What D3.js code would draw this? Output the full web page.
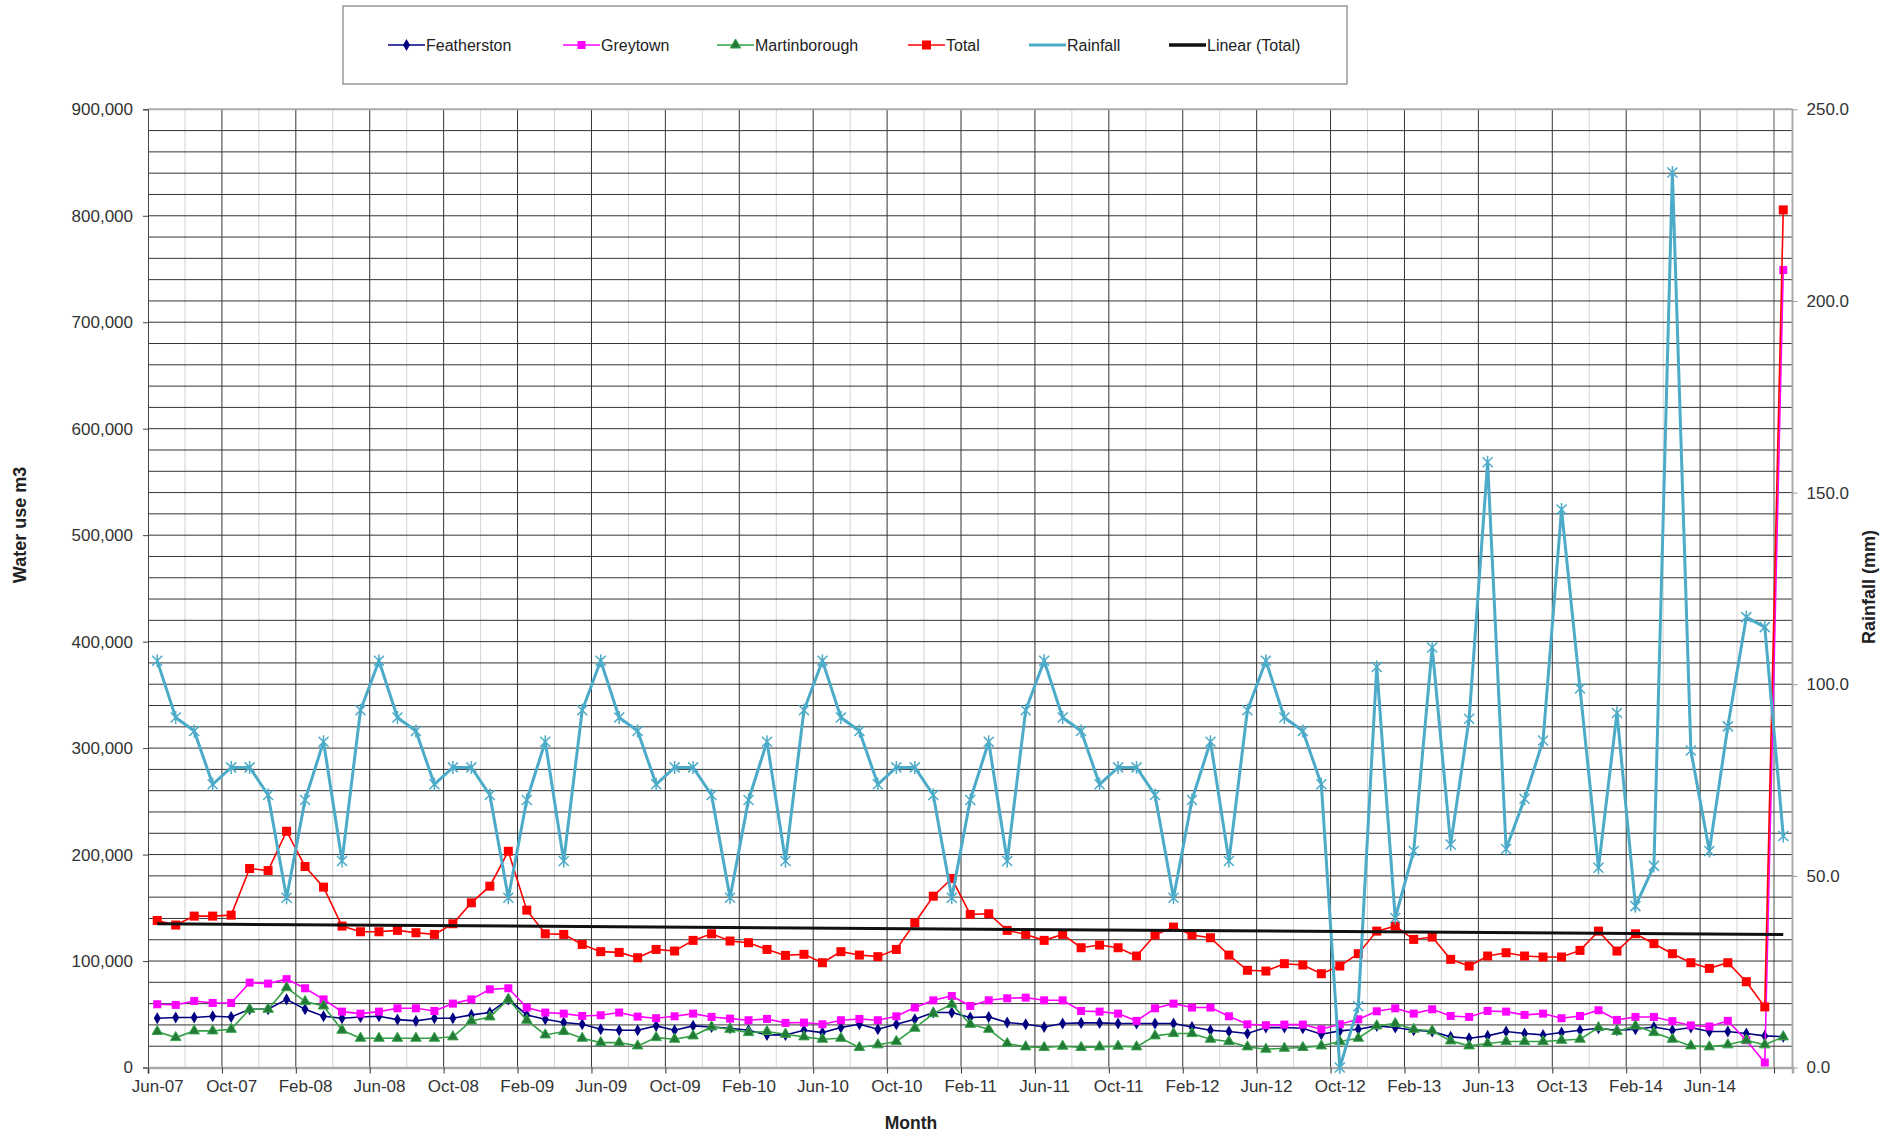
<!DOCTYPE html>
<html>
<head>
<meta charset="utf-8">
<script src="https://cdn.jsdelivr.net/npm/d3@7/dist/d3.min.js"></script>
<style>
  html, body { margin: 0; padding: 0; background: #fff; }
  svg { display: block; font-family: "Liberation Sans", Arial, sans-serif; }
</style>
</head>
<body>
<svg id="chart" width="1899" height="1137"></svg>
<script>
// Monthly categories, Jun-07 .. Oct-14
const months = [
  "Jun-07","Jul-07","Aug-07","Sep-07","Oct-07","Nov-07","Dec-07",
  "Jan-08","Feb-08","Mar-08","Apr-08","May-08","Jun-08","Jul-08","Aug-08","Sep-08","Oct-08","Nov-08","Dec-08",
  "Jan-09","Feb-09","Mar-09","Apr-09","May-09","Jun-09","Jul-09","Aug-09","Sep-09","Oct-09","Nov-09","Dec-09",
  "Jan-10","Feb-10","Mar-10","Apr-10","May-10","Jun-10","Jul-10","Aug-10","Sep-10","Oct-10","Nov-10","Dec-10",
  "Jan-11","Feb-11","Mar-11","Apr-11","May-11","Jun-11","Jul-11","Aug-11","Sep-11","Oct-11","Nov-11","Dec-11",
  "Jan-12","Feb-12","Mar-12","Apr-12","May-12","Jun-12","Jul-12","Aug-12","Sep-12","Oct-12","Nov-12","Dec-12",
  "Jan-13","Feb-13","Mar-13","Apr-13","May-13","Jun-13","Jul-13","Aug-13","Sep-13","Oct-13","Nov-13","Dec-13",
  "Jan-14","Feb-14","Mar-14","Apr-14","May-14","Jun-14","Jul-14","Aug-14","Sep-14","Oct-14"
];

// Water use, m3 (thousands)
const featherston = [
  46.3,46.9,46.9,48.1,47.5,54.7,54.7,64,54.7,48.1,46.3,47.5,48.1,45,43.8,46.3,46.3,49.4,51.6,64,49.4,45.3,42.2,
  40.6,35.9,35,35,39.1,35,39.1,38.1,36.9,35,30.6,30.6,35,32.8,37.5,40.6,35.9,40.6,45.3,51.6,51.6,46.9,
  47.5,42.2,40.6,38.1,41.3,41.9,41.9,41.3,41.3,41.3,41.3,38.1,35,33.8,31.9,37.5,37.5,36.9,31.3,34.4,35.9,39.1,
  37.5,35,33.8,28.8,27.5,29.7,33.8,31.9,30.6,32.8,35,36.9,35,35.9,38.1,35,37.5,33.8,33.8,31.9,29.7,29
];
const greytown = [
  59.4,58.8,62.5,60.6,60.6,79.7,78.8,83,74.4,64,52.5,50.6,52.5,55.6,55.6,53.1,60,64,73.4,74.4,56.3,51.6,50.6,
  48.4,49.1,51.6,47.8,46.3,48.1,50.6,47.5,45.9,44.4,45.6,41.9,42.2,40.6,44.4,45.6,44.4,48.1,56.3,63.1,67.2,57.8,
  63.1,65,65.6,63.1,63.1,53.1,52.5,50.6,43.8,55.6,60,56.3,56.3,48.1,40.6,39.7,40.3,40.3,35.9,40.6,45.3,52.8,
  55.6,50.6,54.7,48.4,47.5,53.1,52.5,49.4,50.6,46.3,48.4,53.8,44.7,47.5,47.5,43.5,39.5,38.5,43.8,25.6,4.7,749
];
const martinborough = [
  33.8,28.1,34.4,34.4,35.9,54.7,54.7,75,61.9,57.8,35,27.5,27.5,27.5,27.5,27.5,28.8,43.8,47.5,64,44.4,30.6,33.8,
  27.5,23.4,23.4,20.3,28.1,26.6,29.7,38.1,35.9,32.8,33.8,31.3,28.8,26.6,27.5,18.8,21.3,24.4,36.9,50.6,59.4,40.6,
  35.9,22.5,19.4,18.8,20,18.8,19.4,20,19.4,29.7,31.9,31.9,26.6,24.4,19.4,17.2,18.1,18.8,20.3,24.4,27.5,39.1,
  41.3,35.9,34.4,25,20.3,22.5,24.4,24.4,24.4,25.6,26.6,37.5,33.8,39.1,32.8,26.6,20.3,19.4,21.3,25.6,21.3,28.8
];
const total = [
  138.1,133.8,142.2,142.2,143.1,186.9,185,221.9,188.8,169.4,132.8,127.5,127.5,128.8,126.6,125,135,154.7,170.3,203.1,147.8,125.6,125,
  115.6,108.8,108.1,103.1,110.9,109.4,119.4,125.6,118.8,117.2,110.9,105.3,106.3,98.4,108.8,105.6,104.1,110.9,135.9,160.9,177.5,143.8,
  144.4,128.8,125,119.4,125,112.5,115,112.5,104.7,124.4,131.9,124.4,121.9,105.6,91.3,90.6,97.5,96.3,88.1,95.3,106.9,128.1,
  132.8,120.3,122.5,101.6,95.3,104.7,107.8,104.7,103.8,103.8,110,128.1,109.4,125.6,116.3,106.9,98.4,93.1,98.4,80.6,56.9,805.5
];
// Linear (Total) trendline end values, thousands m3
const linearTotal = [135, 125];

// Monthly rainfall, mm
const rainfall = [
  106.1,91.3,87.8,73.9,78.3,78.3,71.1,44.3,69.8,85,53.9,93.2,
  106.1,91.3,87.8,73.9,78.3,78.3,71.1,44.3,69.8,85,53.9,93.2,
  106.1,91.3,87.8,73.9,78.3,78.3,71.1,44.3,69.8,85,53.9,93.2,
  106.1,91.3,87.8,73.9,78.3,78.3,71.1,44.3,69.8,85,53.9,93.2,
  106.1,91.3,87.8,73.9,78.3,78.3,71.1,44.3,69.8,85,53.9,93.2,
  106.1,91.3,87.8,73.9,0,16,104.5,39,56.5,109.6,58.2,91,
  157.9,57,70.1,85.3,145.6,98.9,52.1,92.5,42.1,52.6,233.5,82.7,
  56.5,89,117.5,114.9,60.4
];

// Axis tick values
const leftTicks = [0,100000,200000,300000,400000,500000,600000,700000,800000,900000];
const rightTicks = [0,50,100,150,200,250];

const svg = d3.select("#chart");
const P = { left: 148, right: 1792.5, top: 109.3, bottom: 1067.5 };

const xi = d3.scaleLinear().domain([0, months.length]).range([P.left, P.right]);
const yL = d3.scaleLinear().domain([0, 900000]).range([P.bottom, P.top]);
const yR = d3.scaleLinear().domain([0, 250]).range([P.bottom, P.top]);
const bw = xi(1) - xi(0);
const cx = i => xi(i + 0.5);

// ---- gridlines ----
const grid = svg.append("g");
// vertical: every 2 months, darker every 4
d3.range(2, months.length + 1, 2).forEach(i => {
  const major = i % 4 === 0 && i < months.length - 1;
  grid.append("line")
    .attr("x1", xi(i)).attr("x2", xi(i))
    .attr("y1", P.top).attr("y2", P.bottom)
    .attr("stroke", major ? "#333" : (i === 88 ? "#aaa" : "#d4d4d4"))
    .attr("stroke-width", i === 88 ? 2 : 1);
});
// horizontal: every 20,000
d3.range(20000, 900001, 20000).forEach(v => {
  grid.append("line")
    .attr("x1", P.left).attr("x2", P.right)
    .attr("y1", yL(v)).attr("y2", yL(v))
    .attr("stroke", v === 900000 ? "#aaa" : "#333")
    .attr("stroke-width", v === 900000 ? 2 : 1);
});
// right border
grid.append("line").attr("x1", P.right).attr("x2", P.right)
  .attr("y1", P.top).attr("y2", P.bottom).attr("stroke", "#aaa").attr("stroke-width", 2);

// ---- axes ----
const tickFont = g => g.selectAll("text")
  .attr("font-size", "17px").attr("fill", "#333")
  .attr("font-family", "'Liberation Sans', Arial, sans-serif");

const axL = svg.append("g").attr("transform", `translate(${P.left},0)`)
  .call(d3.axisLeft(yL).tickValues(leftTicks).tickFormat(d3.format(",")).tickSize(5).tickPadding(10));
axL.select(".domain").attr("stroke", "#444");
axL.selectAll(".tick line").attr("stroke", "#444");
tickFont(axL);

const axR = svg.append("g").attr("transform", `translate(${P.right},0)`)
  .call(d3.axisRight(yR).tickValues(rightTicks).tickFormat(d3.format(".1f")).tickSize(5).tickPadding(9));
axR.select(".domain").remove();
axR.selectAll(".tick line").attr("stroke", "#999");
tickFont(axR);

// month ticks sit on category edges, labels on the month centre
const xTickIdx = d3.range(0, months.length, 4);
const axB = svg.append("g").attr("transform", `translate(0,${P.bottom})`)
  .call(d3.axisBottom(xi).tickValues(xTickIdx)
    .tickFormat(i => i < months.length - 1 ? months[i] : "")
    .tickSize(6).tickPadding(6));
axB.select(".domain").attr("stroke", "#aaa").attr("stroke-width", 2.5);
axB.selectAll(".tick line").attr("stroke", "#333");
axB.selectAll(".tick text").attr("x", bw / 2);
tickFont(axB);

// axis titles
svg.append("text").attr("transform", "translate(26,525) rotate(-90)")
  .attr("text-anchor", "middle").attr("font-size", "18px").attr("font-weight", "bold")
  .attr("fill", "#222").text("Water use m3");
svg.append("text").attr("transform", "translate(1875,587) rotate(-90)")
  .attr("text-anchor", "middle").attr("font-size", "18px").attr("font-weight", "bold")
  .attr("fill", "#222").text("Rainfall (mm)");
svg.append("text").attr("x", 911).attr("y", 1129)
  .attr("text-anchor", "middle").attr("font-size", "17.5px").attr("font-weight", "bold")
  .attr("fill", "#222").text("Month");

// ---- series ----
const series = [
  { name: "Featherston", data: featherston, color: "#000080", marker: "diamond", fill: "#000080" },
  { name: "Greytown", data: greytown, color: "#ff00ff", marker: "square", fill: "#ff00ff", size: 8 },
  { name: "Martinborough", data: martinborough, color: "#33a044", marker: "triangle", fill: "#237a36" },
  { name: "Total", data: total, color: "#ff0000", marker: "square", fill: "#ff0000", size: 9 }
];

function drawMarker(g, type, x, y, s) {
  if (type === "square") {
    const size = s.size || 8;
    g.append("rect").attr("x", x - size / 2).attr("y", y - size / 2)
      .attr("width", size).attr("height", size).attr("fill", s.fill);
  } else if (type === "diamond") {
    g.append("path").attr("transform", `translate(${x},${y})`)
      .attr("d", d3.symbol(d3.symbolDiamond, 42)()).attr("fill", s.fill);
  } else if (type === "triangle") {
    g.append("path").attr("transform", `translate(${x},${y})`)
      .attr("d", d3.symbol(d3.symbolTriangle, 48)()).attr("fill", s.fill)
      .attr("stroke", "#3aa64e").attr("stroke-width", 1);
  } else if (type === "star") {
    g.append("path").attr("transform", `translate(${x},${y})`)
      .attr("d", "M-5,-5L5,5M-5,5L5,-5M0,-6.5L0,6.5")
      .attr("stroke", s.color).attr("stroke-width", 1.5).attr("fill", "none");
  }
}

const plot = svg.append("g");
series.forEach(s => {
  const g = plot.append("g");
  g.append("path").datum(s.data)
    .attr("fill", "none").attr("stroke", s.color).attr("stroke-width", 1.6)
    .attr("d", d3.line().x((d, i) => cx(i)).y(d => yL(d * 1000)));
  s.data.forEach((d, i) => drawMarker(g, s.marker, cx(i), yL(d * 1000), s));
});

// rainfall on the secondary axis
const rainS = { color: "#4babc8" };
const gR = plot.append("g");
gR.append("path").datum(rainfall)
  .attr("fill", "none").attr("stroke", rainS.color).attr("stroke-width", 3)
  .attr("d", d3.line().x((d, i) => cx(i)).y(d => yR(d)));
rainfall.forEach((d, i) => drawMarker(gR, "star", cx(i), yR(d), rainS));

// linear trendline of Total
plot.append("line")
  .attr("x1", cx(0)).attr("x2", cx(months.length - 1))
  .attr("y1", yL(linearTotal[0] * 1000)).attr("y2", yL(linearTotal[1] * 1000))
  .attr("stroke", "#111").attr("stroke-width", 3);

// ---- legend ----
const lg = svg.append("g");
lg.append("rect").attr("x", 343).attr("y", 6).attr("width", 1004).attr("height", 78)
  .attr("fill", "#fff").attr("stroke", "#999").attr("stroke-width", 1.5);
const legendItems = [
  { s: series[0], x: 388 },
  { s: series[1], x: 563 },
  { s: series[2], x: 717 },
  { s: series[3], x: 908 },
  { s: { name: "Rainfall", color: rainS.color, width: 3 }, x: 1029 },
  { s: { name: "Linear (Total)", color: "#111", width: 3.5 }, x: 1169 }
];
legendItems.forEach(({ s, x }) => {
  const y = 45;
  lg.append("line").attr("x1", x).attr("x2", x + 37).attr("y1", y).attr("y2", y)
    .attr("stroke", s.color).attr("stroke-width", s.width || 1.6);
  if (s.marker) drawMarker(lg, s.marker, x + 18.5, y, s);
  lg.append("text").attr("x", x + 38).attr("y", y + 6)
    .attr("font-size", "16px").attr("fill", "#222").text(s.name);
});
</script>
</body>
</html>
